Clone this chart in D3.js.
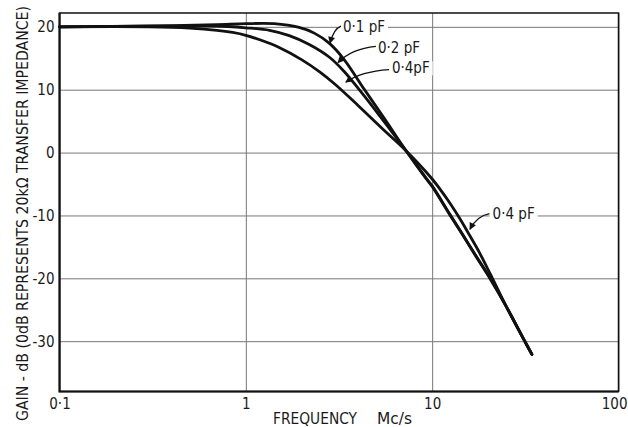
<!DOCTYPE html>
<html>
<head>
<meta charset="utf-8">
<script src="https://cdn.jsdelivr.net/npm/d3@7"></script>
<style>
  body { margin: 0; background: #fff; }
  svg { display: block; }
  text { font-family: "DejaVu Sans Condensed", "DejaVu Sans", sans-serif; fill: #1a1a1a; }
</style>
</head>
<body>
<div id="chart"></div>
<script>
// Gain curves (frequency in Mc/s, gain in dB)
const freq01 = [0.1, 0.2, 0.4, 0.7, 1.0, 1.42, 1.93, 2.33, 2.8, 3.37, 4.31, 5.52, 7.24, 9.2, 10, 12.5, 14.5, 17, 20.5, 25, 31.4, 34.3]
const gain01 = [20, 20.05, 20.2, 20.35, 20.5, 20.5, 19.9, 19.0, 17.4, 14.8, 10.1, 5.5, 0.3, -4.0, -5.4, -10, -13.0, -16.3, -20.1, -24.5, -30, -32.1]

const freq02 = [0.1, 0.3, 0.6, 0.8, 1.0, 1.34, 1.71, 2.19, 2.8, 3.37, 4.06, 5.18, 7.24, 9.2, 10, 12.5, 14.5, 17, 20.5, 25, 31.4, 34.3]
const gain02 = [20, 20.1, 20.15, 20.05, 19.85, 19.45, 18.6, 17.2, 15.2, 12.9, 10.0, 6.0, 0.3, -3.9, -5.3, -9.9, -12.9, -16.2, -20.0, -24.5, -30, -32.1]

const freq04 = [0.1, 0.3, 0.5, 0.7, 0.85, 1.0, 1.2, 1.5, 2.0, 2.5, 3.0, 4.0, 5.5, 7.24, 10, 12, 13.8, 15.7, 18, 20.5, 25, 31.4, 34.3]
const gain04 = [20, 20.0, 19.8, 19.45, 19.1, 18.65, 17.9, 16.75, 14.75, 12.8, 10.9, 7.5, 3.6, 0.3, -4.2, -7.35, -10.1, -12.9, -16.0, -19.3, -24.5, -30, -32.1]

const xTicks = [0.1, 1, 10, 100]
const xTickLabels = ['0·1', '1', '10', '100']
const yTicks = [20, 10, 0, -10, -20, -30]
const yTickLabels = ['20', '10', '0', '-10', '-20', '-30']

// annotations: label, text anchor (f, dB), arrow start (f, dB), arrow tip (f, dB)
const annoLabels = ['0·1 pF', '0·2 pF', '0·4pF', '0·4 pF']
const annoTextPos = [[3.32, 19.1], [5.12, 15.9], [6.08, 12.6], [21.1, -10.6]]
const annoStart = [[3.24, 20.1], [4.99, 16.9], [5.87, 13.2], [20.3, -9.7]]
const annoTip = [[2.83, 17.4], [3.12, 14.3], [3.44, 11.2], [15.95, -12.2]]

const W = 628, H = 427
const margin = {top: 13, right: 9.5, bottom: 35.5, left: 59.5}
const width = W - margin.left - margin.right
const height = H - margin.top - margin.bottom

const svg = d3.select('#chart').append('svg')
    .attr('width', W)
    .attr('height', H)

const g = svg.append('g')
    .attr('transform', `translate(${margin.left},${margin.top})`)

const x = d3.scaleLog().domain([0.1, 100]).range([0, width])
const y = d3.scaleLinear().domain([-38, 22.2]).range([height, 0])

// grid + tick labels through the axes
const yAxis = g.append('g')
    .call(d3.axisLeft(y).tickValues(yTicks).tickSize(-width).tickPadding(5)
        .tickFormat((d, i) => yTickLabels[i]))
yAxis.select('.domain').remove()
yAxis.selectAll('line').attr('stroke', '#777').attr('stroke-width', 1)
yAxis.selectAll('text').attr('font-size', 15).attr('fill', '#1a1a1a')
    .style('font-family', '"DejaVu Sans Condensed", "DejaVu Sans", sans-serif')

const xAxis = g.append('g')
    .attr('transform', `translate(0,${height})`)
    .call(d3.axisBottom(x).tickValues(xTicks).tickSize(-height).tickPadding(7)
        .tickFormat((d, i) => xTickLabels[i]))
xAxis.select('.domain').remove()
xAxis.selectAll('line').attr('stroke', '#777').attr('stroke-width', 1)
xAxis.selectAll('text').attr('font-size', 15).attr('fill', '#1a1a1a')
    .style('font-family', '"DejaVu Sans Condensed", "DejaVu Sans", sans-serif')
// last label sits on the page edge; keep it inside
xAxis.selectAll('.tick').filter(d => d === 100).select('text')
    .attr('text-anchor', 'end').attr('x', margin.right - 1)

// frame
g.append('rect')
    .attr('width', width).attr('height', height)
    .attr('fill', 'none').attr('stroke', '#111').attr('stroke-width', 1.5)
g.append('path')
    .attr('d', `M0,0V${height}H${width}`)
    .attr('fill', 'none').attr('stroke', '#111').attr('stroke-width', 2)

// curves
const line = d3.line()
    .x(d => x(d[0]))
    .y(d => y(d[1]))
    .curve(d3.curveCatmullRom.alpha(0.5))

const series = [
    d3.zip(freq01, gain01),
    d3.zip(freq02, gain02),
    d3.zip(freq04, gain04)
]

g.selectAll('.curve')
    .data(series)
    .join('path')
    .attr('class', 'curve')
    .attr('d', line)
    .attr('fill', 'none')
    .attr('stroke', '#111')
    .attr('stroke-width', 2.8)
    .attr('stroke-linejoin', 'round')
    .attr('stroke-linecap', 'round')

// arrowhead
svg.append('defs').append('marker')
    .attr('id', 'arrow')
    .attr('viewBox', '0 0 10 10')
    .attr('refX', 9).attr('refY', 5)
    .attr('markerWidth', 10).attr('markerHeight', 7)
    .attr('markerUnits', 'userSpaceOnUse')
    .attr('orient', 'auto')
    .append('path')
    .attr('d', 'M0,0L10,5L0,10Z')
    .attr('fill', '#111')

// annotations
const anno = g.selectAll('.anno')
    .data(annoLabels.map((t, i) => ({t, p: annoTextPos[i], s: annoStart[i], e: annoTip[i]})))
    .join('g')
    .attr('class', 'anno')

anno.append('text')
    .attr('x', d => x(d.p[0]))
    .attr('y', d => y(d.p[1]))
    .attr('font-size', 15)
    .text(d => d.t)
    .each(function () {
        const bb = this.getBBox()
        d3.select(this.parentNode).insert('rect', 'text')
            .attr('x', bb.x - 3).attr('y', bb.y + 2)
            .attr('width', bb.width + 6).attr('height', bb.height - 4)
            .attr('fill', '#fff')
    })

anno.append('path')
    .attr('d', d => {
        const sx = x(d.s[0]), sy = y(d.s[1])
        const tx = x(d.e[0]), ty = y(d.e[1])
        const cx = tx + (sx - tx) * 0.35, cy = sy + (ty - sy) * 0.15
        return `M${sx},${sy}Q${cx},${cy} ${tx},${ty}`
    })
    .attr('fill', 'none')
    .attr('stroke', '#111')
    .attr('stroke-width', 1.3)
    .attr('marker-end', 'url(#arrow)')

// axis titles
svg.append('text')
    .attr('x', 273).attr('y', 423.5)
    .attr('font-size', 15)
    .attr('textLength', 84).attr('lengthAdjust', 'spacingAndGlyphs')
    .text('FREQUENCY')
svg.append('text')
    .attr('x', 377).attr('y', 423.5)
    .attr('font-size', 15)
    .attr('textLength', 35).attr('lengthAdjust', 'spacingAndGlyphs')
    .text('Mc/s')

svg.append('text')
    .attr('transform', 'translate(28,421) rotate(-90)')
    .attr('font-size', 15)
    .attr('textLength', 415).attr('lengthAdjust', 'spacingAndGlyphs')
    .text('GAIN - dB (0dB REPRESENTS 20kΩ TRANSFER IMPEDANCE)')
</script>
</body>
</html>
